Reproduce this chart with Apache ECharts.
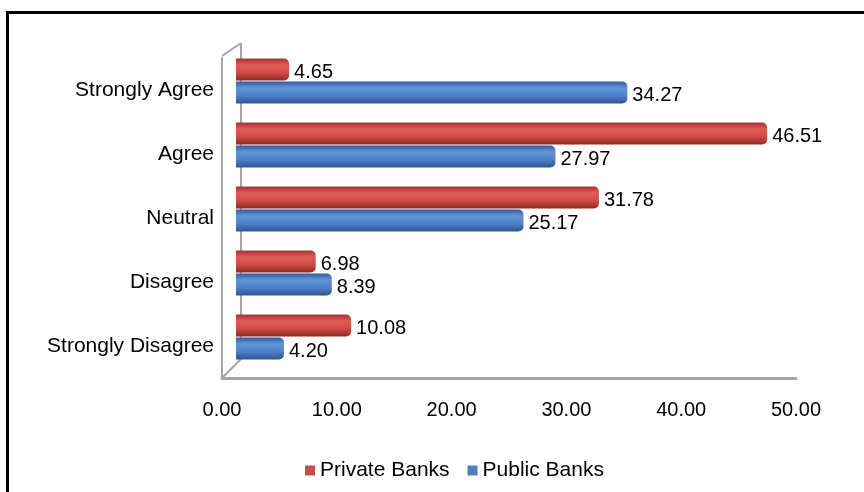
<!DOCTYPE html>
<html>
<head>
<meta charset="utf-8">
<script src="https://cdn.jsdelivr.net/npm/echarts@6/dist/echarts.min.js"></script>
<style>
  html, body { margin: 0; padding: 0; background: #fff; }
  #chart { width: 864px; height: 492px; }
</style>
</head>
<body>
<div id="chart"></div>
<script>
// Survey response categories (top to bottom)
const categories = ['Strongly Agree', 'Agree', 'Neutral', 'Disagree', 'Strongly Disagree'];
// Percentage of respondents per bank type
const privateBanks = [4.65, 46.51, 31.78, 6.98, 10.08];
const publicBanks = [34.27, 27.97, 25.17, 8.39, 4.20];
// Value axis ticks
const xTicks = [0, 10, 20, 30, 40, 50];

const FONT = "'Liberation Sans', Arial, sans-serif";
const FRAME = '#A6A6A6';

// Cylinder-style shading across the bar thickness
function cylinder(edge, light, mid, dark) {
  return new echarts.graphic.LinearGradient(0, 0, 0, 1, [
    { offset: 0, color: edge },
    { offset: 0.3, color: light },
    { offset: 0.65, color: mid },
    { offset: 1, color: dark }
  ]);
}

const chart = echarts.init(document.getElementById('chart'), null, { renderer: 'canvas' });

const labelStyle = {
  show: true,
  position: 'right',
  distance: 5,
  offset: [0, 3],
  color: '#000',
  fontSize: 20,
  fontFamily: FONT,
  formatter: p => p.value.toFixed(2)
};

chart.setOption({
  animation: false,
  backgroundColor: '#fff',
  textStyle: { fontFamily: FONT },
  grid: [
    // front face of the 3-D frame: carries the tick and category labels
    { left: 222, width: 574, top: 58, height: 320 },
    // back plane where the bars sit
    { left: 236, width: 571, top: 49, height: 320 }
  ],
  xAxis: [
    {
      gridIndex: 0,
      type: 'value',
      min: xTicks[0],
      max: xTicks[xTicks.length - 1],
      interval: 10,
      axisLine: { show: true, lineStyle: { color: FRAME, width: 3 } },
      axisTick: { show: false },
      splitLine: { show: false },
      axisLabel: {
        color: '#000', fontSize: 20, fontFamily: FONT, margin: 22,
        formatter: v => v.toFixed(2)
      }
    },
    {
      gridIndex: 1,
      type: 'value',
      min: xTicks[0],
      max: xTicks[xTicks.length - 1],
      show: false
    }
  ],
  yAxis: [
    {
      gridIndex: 0,
      type: 'category',
      inverse: true,
      data: categories,
      axisLine: { show: true, lineStyle: { color: FRAME, width: 2 } },
      axisTick: { show: false },
      axisLabel: { color: '#000', fontSize: 21, fontFamily: FONT, margin: 8 }
    },
    {
      gridIndex: 1,
      type: 'category',
      inverse: true,
      data: categories,
      show: false
    }
  ],
  legend: {
    left: 300,
    top: 455,
    itemWidth: 10,
    itemHeight: 10,
    itemGap: 18,
    icon: 'rect',
    textStyle: { color: '#000', fontSize: 21, fontFamily: FONT },
    data: [
      { name: 'Private Banks', itemStyle: { color: '#C0504D' } },
      { name: 'Public Banks', itemStyle: { color: '#4F81BD' } }
    ]
  },
  graphic: [
    // outer border
    {
      type: 'rect', z: 0, silent: true,
      shape: { x: 7.5, y: 12.5, width: 1000, height: 1000 },
      style: { fill: 'none', stroke: '#000', lineWidth: 3 }
    },
    // depth edges of the frame
    { type: 'line', z: 0, silent: true, shape: { x1: 222, y1: 56, x2: 241, y2: 43 }, style: { stroke: FRAME, lineWidth: 2 } },
    { type: 'line', z: 0, silent: true, shape: { x1: 241, y1: 43, x2: 241, y2: 359 }, style: { stroke: FRAME, lineWidth: 2 } },
    { type: 'line', z: 0, silent: true, shape: { x1: 223, y1: 377, x2: 241, y2: 359 }, style: { stroke: FRAME, lineWidth: 2 } }
  ],
  series: [
    {
      name: 'Private Banks',
      type: 'bar',
      xAxisIndex: 1,
      yAxisIndex: 1,
      data: privateBanks,
      barWidth: 22,
      barGap: '5%',
      itemStyle: {
        color: cylinder('#A8322F', '#DF5C58', '#CF4A47', '#93292A'),
        borderRadius: [0, 5, 5, 0]
      },
      label: labelStyle
    },
    {
      name: 'Public Banks',
      type: 'bar',
      xAxisIndex: 1,
      yAxisIndex: 1,
      data: publicBanks,
      barWidth: 22,
      itemStyle: {
        color: cylinder('#325C9A', '#6496DC', '#4D80C6', '#2C528C'),
        borderRadius: [0, 5, 5, 0]
      },
      label: labelStyle
    }
  ]
});
</script>
</body>
</html>
